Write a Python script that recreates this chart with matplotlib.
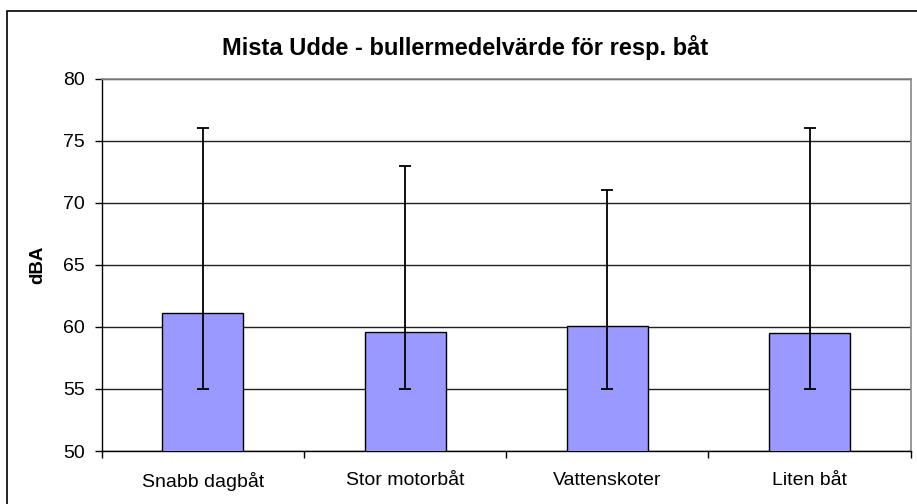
import matplotlib
matplotlib.use("Agg")
import matplotlib.pyplot as plt
from matplotlib.patches import Rectangle
import numpy as np

categories = ["Snabb dagbåt", "Stor motorbåt", "Vattenskoter", "Liten båt"]
means = [61.1, 59.6, 60.1, 59.5]
mins = [55, 55, 55, 55]
maxs = [76, 73, 71, 76]
yticks = [50, 55, 60, 65, 70, 75, 80]

plt.rcParams['font.family'] = ['Liberation Sans', 'DejaVu Sans']

W, H = 917, 504
fig = plt.figure(figsize=(W / 100, H / 100), dpi=100)
left, right, top, bottom = 101.7, 910.7, 78.7, 451.0
ax = fig.add_axes([left / W, 1 - bottom / H, (right - left) / W, (bottom - top) / H])

x = np.arange(len(categories))
means_a = np.array(means)
yerr = [means_a - np.array(mins), np.array(maxs) - means_a]
ax.bar(x, means, width=0.4, color="#9999FF", edgecolor="black", linewidth=1.0, zorder=3)
ax.errorbar(x, means, yerr=yerr, fmt="none", ecolor="black", elinewidth=1.3,
            capsize=4.3, capthick=1.3, zorder=4)

ax.set_xlim(-0.5, len(categories) - 0.5)
ax.set_ylim(50, 80)
ax.set_yticks(yticks)
ax.set_yticklabels([str(v) for v in yticks], fontsize=14)
ax.yaxis.grid(True, color="#222222", linewidth=1.0, zorder=0)
ax.set_axisbelow(True)

ax.set_xticks(x)
ax.set_xticklabels(categories, fontsize=14)
ax.set_xticks(np.arange(len(categories) + 1) - 0.5, minor=True)
ax.tick_params(axis="x", which="major", length=0, pad=15)
ax.tick_params(axis="x", which="minor", length=5, width=1.0, direction="out")
ax.tick_params(axis="y", length=5, width=1.0, direction="out", pad=7)

for s in ["top", "right"]:
    ax.spines[s].set_color("#888888")
    ax.spines[s].set_linewidth(1.2)
for s in ["left", "bottom"]:
    ax.spines[s].set_color("black")
    ax.spines[s].set_linewidth(1.0)

fig.text(38 / W, 1 - 265 / H, "dBA", rotation=90, ha="center", va="center",
         fontsize=13.5, fontweight="bold")
fig.text(465 / W, 1 - 47 / H, "Mista Udde - bullermedelvärde för resp. båt",
         ha="center", va="center", fontsize=17, fontweight="bold")

fig.patches.append(Rectangle((7 / W, -0.05), 1.1, 1 - 11 / H + 0.05,
                             transform=fig.transFigure, fill=False,
                             edgecolor="black", linewidth=1.2))

fig.savefig("out.png", dpi=100)
